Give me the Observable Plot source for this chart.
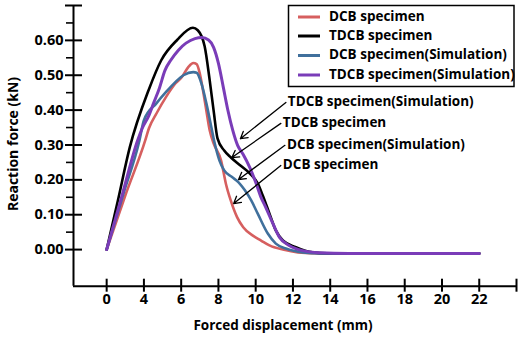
<!DOCTYPE html>
<html>
<head>
<meta charset="utf-8">
<script src="https://cdn.jsdelivr.net/npm/d3@7"></script>
<script src="https://cdn.jsdelivr.net/npm/@observablehq/plot@0.6"></script>
<style>
  html, body { margin: 0; padding: 0; background: #fff; }
  svg { display: block; }
</style>
</head>
<body>
<div id="chart"></div>
<script>
// ---- data ----
const seriesNames = ["DCB specimen", "TDCB specimen", "DCB specimen(Simulation)", "TDCB specimen(Simulation)"];
const seriesColors = ["#d65f5f", "#000000", "#40709c", "#7a3cb8"];

const dcb = [[2,0],[3.0,0.155],[4.07,0.313],[4.27,0.348],[4.68,0.391],[5.19,0.438],[5.70,0.477],[6.04,0.495],[6.39,0.524],[6.65,0.535],[6.83,0.532],[7.0,0.505],[7.17,0.457],[7.35,0.399],[7.53,0.342],[7.74,0.305],[8.14,0.256],[8.4,0.189],[8.66,0.141],[9.0,0.093],[9.33,0.064],[9.85,0.040],[10.29,0.026],[10.74,0.012],[11.46,0.0],[12.26,-0.008],[13.5,-0.011],[16,-0.011],[22,-0.011]];
const tdcb = [[2,0],[2.6,0.140],[3.24,0.293],[4.25,0.457],[4.93,0.543],[5.78,0.601],[6.63,0.636],[6.89,0.629],[7.26,0.583],[7.53,0.486],[7.74,0.399],[7.95,0.319],[8.31,0.284],[8.67,0.264],[9.18,0.241],[9.69,0.218],[10.11,0.190],[10.38,0.155],[10.74,0.103],[11.08,0.055],[11.46,0.026],[12.16,0.007],[13.05,-0.008],[13.84,-0.011],[16,-0.011],[22,-0.011]];
const dcbSim = [[2,0],[2.9,0.160],[3.76,0.313],[4.0,0.371],[4.68,0.420],[5.19,0.452],[5.70,0.481],[6.12,0.500],[6.65,0.509],[6.83,0.507],[7.09,0.476],[7.35,0.420],[7.62,0.351],[7.79,0.307],[8.05,0.256],[8.31,0.227],[8.73,0.208],[9.08,0.193],[9.42,0.170],[9.76,0.141],[10.11,0.103],[10.65,0.046],[11.08,0.017],[11.62,0.003],[12.53,-0.008],[13.5,-0.011],[16,-0.011],[22,-0.011]];
const tdcbSim = [[2,0],[2.85,0.160],[3.66,0.313],[3.91,0.348],[4.27,0.385],[4.52,0.420],[4.83,0.463],[5.13,0.514],[5.44,0.543],[5.85,0.572],[6.26,0.592],[6.74,0.605],[7.11,0.608],[7.47,0.601],[7.74,0.580],[8.0,0.534],[8.26,0.466],[8.51,0.399],[8.77,0.342],[9.03,0.299],[9.33,0.273],[9.68,0.236],[10.0,0.193],[10.27,0.152],[10.54,0.121],[10.92,0.075],[11.28,0.035],[11.82,0.011],[12.53,-0.003],[13.41,-0.009],[15,-0.011],[22,-0.011]];

const xTicks = [2,4,6,8,10,12,14,16,18,20,22,24];
const xTickLabels = ["0","4","6","8","10","12","14","16","18","20","22",""];
const yMajor = [0,0.1,0.2,0.3,0.4,0.5,0.6,0.7];
const yLabeled = [0,0.1,0.2,0.3,0.4,0.5,0.6];
const yMinor = [0.05,0.15,0.25,0.35,0.45,0.55,0.65];

// annotation: label, label/arrow-start point, arrow tip
const annLabels = ["TDCB specimen(Simulation)", "TDCB specimen", "DCB specimen(Simulation)", "DCB specimen"];
const annStart = [[11.62,0.422],[11.35,0.362],[11.57,0.299],[11.35,0.241]];
const annTip = [[9.18,0.318],[8.72,0.264],[9.08,0.201],[8.82,0.132]];

const xTitle = "Forced displacement (mm)";
const yTitle = "Reaction force (kN)";

// ---- build ----
const allSeries = [dcb, tdcb, dcbSim, tdcbSim];
const widths = [2.6, 2.6, 2.6, 3];
const lineMarks = allSeries.map((s, i) => Plot.line(s, {x: d => d[0], y: d => d[1], stroke: seriesColors[i], strokeWidth: widths[i], curve: "monotone-x"}));
const ann = annLabels.map((l, i) => ({label: l, x1: annStart[i][0], y1: annStart[i][1], x2: annTip[i][0], y2: annTip[i][1]}));

const font = "'Open Sans', sans-serif";
const chart = Plot.plot({
  width: 521, height: 340,
  marginLeft: 73, marginRight: 5, marginTop: 5, marginBottom: 54.3,
  x: {domain: [0.22, 24]},
  y: {domain: [-0.105, 0.70]},
  style: {fontFamily: font, fontWeight: "bold", color: "#000", background: "#fff"},
  marks: [
    Plot.ruleX([0.22], {stroke: "#000", strokeWidth: 2}),
    Plot.ruleY([-0.105], {stroke: "#000", strokeWidth: 2}),
    Plot.axisX({ticks: xTicks, tickSize: 13, dy: -7, text: null, strokeWidth: 2}),
    Plot.axisX({ticks: xTicks.slice(0, 11), tickSize: 0, tickPadding: 8, fontSize: 14.5, tickFormat: d => xTickLabels[xTicks.indexOf(d)]}),
    Plot.axisY({ticks: yMajor, tickSize: 17, dx: 9, text: null, strokeWidth: 2}),
    Plot.axisY({ticks: yMinor, tickSize: 7, text: null, strokeWidth: 1.6}),
    Plot.axisY({ticks: yLabeled, tickSize: 0, tickPadding: 10, fontSize: 14.5, tickFormat: d => d.toFixed(2)}),
    ...lineMarks,
    Plot.arrow(ann, {x1: "x1", y1: "y1", x2: "x2", y2: "y2", stroke: "#000", strokeWidth: 1.3, headLength: 9, bend: 0}),
    Plot.text(ann, {x: "x1", y: "y1", text: "label", textAnchor: "start", dx: 2, dy: -1, fontSize: 13.5, fontWeight: "bold", fill: "#000"})
  ]
});
document.getElementById("chart").appendChild(chart);

// titles and legend
const svg = d3.select(chart);
svg.append("text").attr("x", 283).attr("y", 326).attr("text-anchor", "middle").attr("dominant-baseline", "middle")
  .attr("font-family", font).attr("font-weight", "bold").attr("font-size", 13.5).attr("fill", "#000").text(xTitle);
svg.append("text").attr("transform", "translate(14,144) rotate(-90)").attr("text-anchor", "middle").attr("dominant-baseline", "middle")
  .attr("font-family", font).attr("font-weight", "bold").attr("font-size", 14).attr("fill", "#000").text(yTitle);

const lg = svg.append("g");
lg.append("rect").attr("x", 288.5).attr("y", 5.5).attr("width", 225.5).attr("height", 81).attr("fill", "#fff").attr("stroke", "#000").attr("stroke-width", 1.5);
const rowY = [17, 36, 55.5, 75];
seriesNames.forEach((n, i) => {
  lg.append("line").attr("x1", 298).attr("x2", 320).attr("y1", rowY[i]).attr("y2", rowY[i]).attr("stroke", seriesColors[i]).attr("stroke-width", 3);
  lg.append("text").attr("x", 329).attr("y", rowY[i]).attr("text-anchor", "start").attr("dominant-baseline", "middle")
    .attr("font-family", font).attr("font-weight", "bold").attr("font-size", 13.5).attr("fill", "#000").text(n);
});
</script>
</body>
</html>
